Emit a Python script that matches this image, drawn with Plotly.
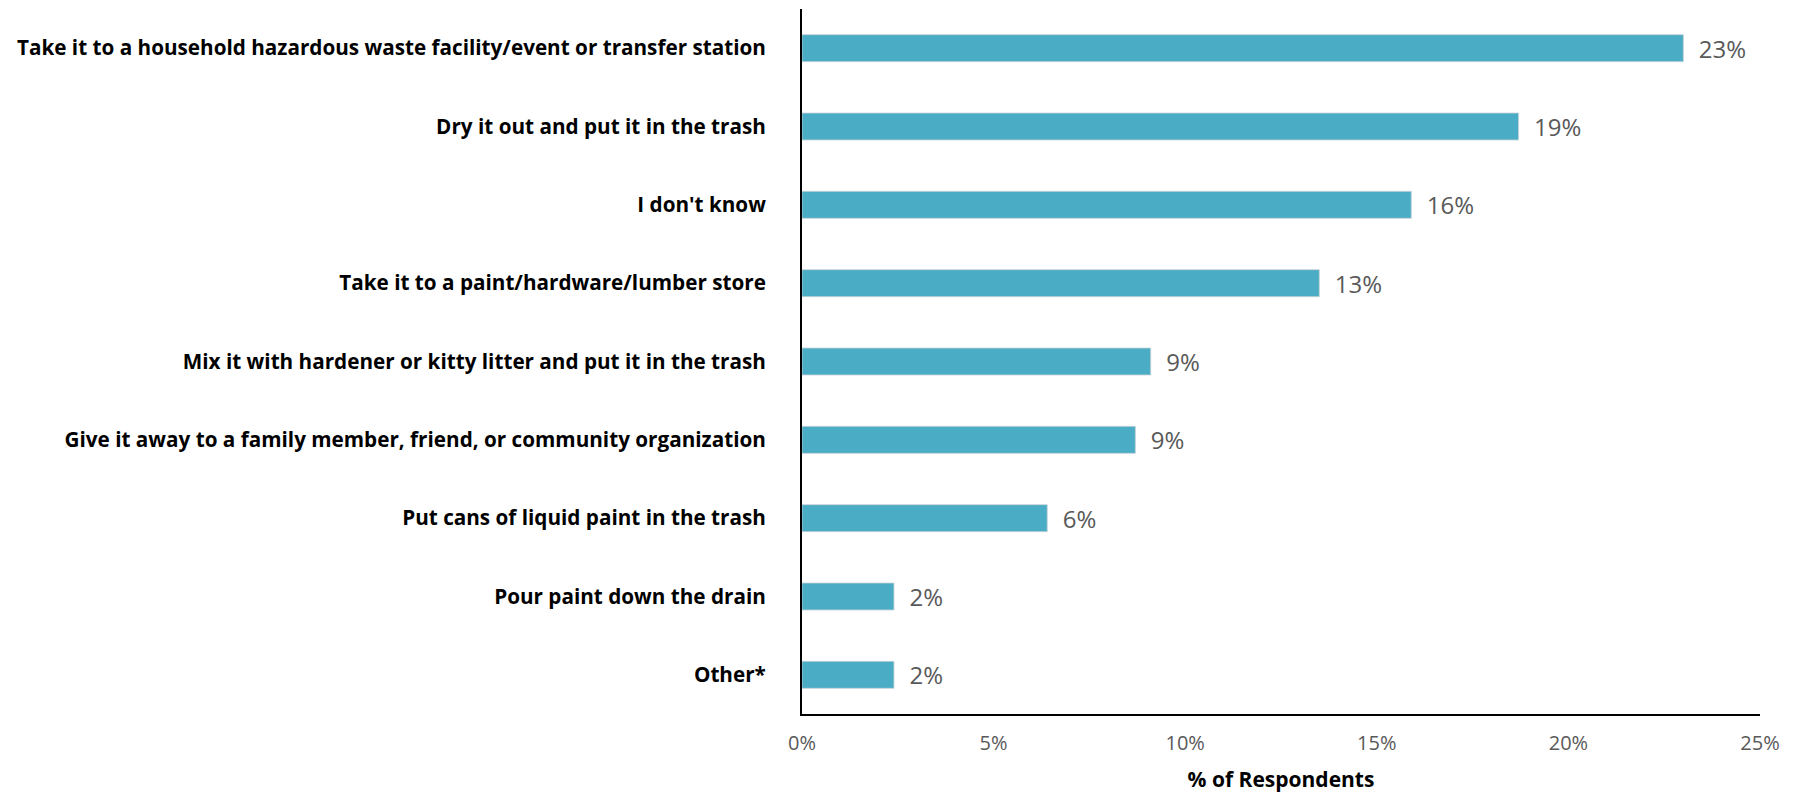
import plotly.graph_objects as go

categories = [
    "Take it to a household hazardous waste facility/event or transfer station",
    "Dry it out and put it in the trash",
    "I don't know",
    "Take it to a paint/hardware/lumber store",
    "Mix it with hardener or kitty litter and put it in the trash",
    "Give it away to a family member, friend, or community organization",
    "Put cans of liquid paint in the trash",
    "Pour paint down the drain",
    "Other*",
]
values = [23.0, 18.7, 15.9, 13.5, 9.1, 8.7, 6.4, 2.4, 2.4]
value_labels = ["23%", "19%", "16%", "13%", "9%", "9%", "6%", "2%", "2%"]
x_tick_vals = [0, 5, 10, 15, 20, 25]
x_tick_text = ["0%", "5%", "10%", "15%", "20%", "25%"]

FONT = "Open Sans"
BAR_COLOR = "#4BACC6"
GRAY = "#595959"

# the page body has an 8px margin, so margins are offset by 8px
fig = go.Figure(
    go.Bar(
        x=values,
        y=categories,
        orientation="h",
        marker=dict(color=BAR_COLOR, line=dict(color="#c9d3d6", width=0.8)),
        text=["\u00a0\u00a0" + t for t in value_labels],
        textposition="outside",
        constraintext="none",
        textfont=dict(family=FONT, size=24, color=GRAY),
        cliponaxis=False,
        hoverinfo="skip",
    )
)

fig.update_layout(
    width=1798,
    height=793,
    margin=dict(l=794, r=46, t=1, b=87, autoexpand=False),
    paper_bgcolor="white",
    plot_bgcolor="white",
    bargap=0.655,
    showlegend=False,
    font=dict(family=FONT),
)

fig.update_xaxes(
    range=[0, 25],
    tickvals=x_tick_vals,
    ticktext=x_tick_text,
    tickfont=dict(family=FONT, size=20, color=GRAY),
    showgrid=False,
    zeroline=False,
    showline=True,
    linecolor="black",
    linewidth=2,
    ticks="",
    ticklabelstandoff=10,
    automargin=False,
    title=dict(
        text="% of Respondents",
        font=dict(family=FONT, size=21, color="black", weight="bold"),
        standoff=17,
    ),
)

fig.update_yaxes(
    autorange="reversed",
    tickfont=dict(family=FONT, size=20.7, color="black", weight="bold"),
    showgrid=False,
    zeroline=False,
    showline=True,
    linecolor="black",
    linewidth=2,
    ticks="",
    ticklabelstandoff=30,
    automargin=False,
)

fig.write_html("out.html")
